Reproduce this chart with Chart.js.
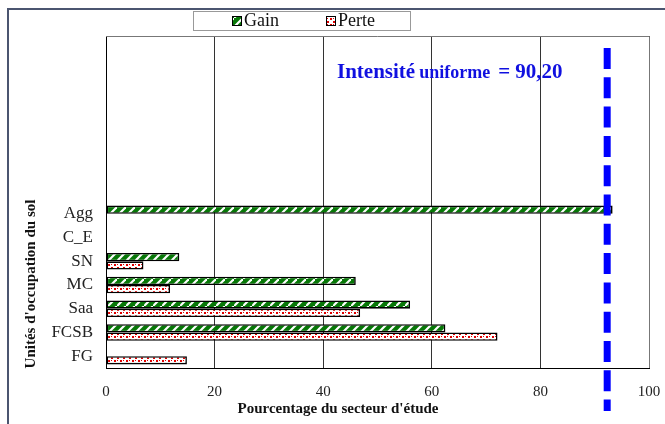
<!DOCTYPE html>
<html>
<head>
<meta charset="utf-8">
<script src="https://cdn.jsdelivr.net/npm/chart.js@4.4.1/dist/chart.umd.min.js"></script>
<style>
    html, body { margin: 0; padding: 0; background: #fff; overflow: hidden; }
    #wrap { position: relative; width: 665px; height: 424px; }
    #frame {
        position: absolute; left: 7px; top: 8px; width: 700px; height: 500px;
        border: 2px solid #4b5570; box-sizing: border-box;
    }
    canvas { position: absolute; left: 0; top: 0; }
</style>
</head>
<body>
<div id="wrap">
    <div id="frame"></div>
    <canvas id="landChart" width="665" height="424"></canvas>
</div>
<script>
// Land use units (top rows are empty in the original figure)
const categories = ['', '', '', '', '', '', '', 'Agg', 'C_E', 'SN', 'MC', 'Saa', 'FCSB', 'FG'];
const gainValues = [null, null, null, null, null, null, null, 93.3, 0, 13.5, 46.0, 56.0, 62.5, 0];
const perteValues = [null, null, null, null, null, null, null, 0, 0, 6.9, 11.8, 46.8, 72.1, 14.9];
const xTicks = [0, 20, 40, 60, 80, 100];
const uniformIntensity = 92.3;
const uniformLabel = 'Intensité uniforme = 90,20';

const SERIF = '"Liberation Serif", "Times New Roman", serif';

// Fill patterns
function gainPattern() {
    const c = document.createElement('canvas');
    c.width = 9; c.height = 9;
    const g = c.getContext('2d');
    g.fillStyle = '#077807';
    g.fillRect(0, 0, 9, 9);
    g.strokeStyle = '#ffffff';
    g.lineWidth = 2.2;
    g.beginPath();
    g.moveTo(-1, 10); g.lineTo(10, -1);
    g.stroke();
    return g.createPattern(c, 'repeat');
}

function pertePattern() {
    const c = document.createElement('canvas');
    c.width = 6; c.height = 6;
    const g = c.getContext('2d');
    g.fillStyle = '#ffffff';
    g.fillRect(0, 0, 6, 6);
    g.fillStyle = '#e00000';
    g.fillRect(0, 0, 2, 2);
    g.fillRect(3, 3, 2, 2);
    g.fillRect(3, 0, 1, 1);
    return g.createPattern(c, 'repeat');
}

const gainFill = gainPattern();
const perteFill = pertePattern();

// Extra drawing: frame of plot, legend box, axis titles, uniform line
const extrasPlugin = {
    id: 'extras',
    afterDraw(chart) {
        const ctx = chart.ctx;
        const area = chart.chartArea;
        const x = chart.scales.x;
        ctx.save();

        // plot border (top & right grey)
        ctx.strokeStyle = '#777';
        ctx.lineWidth = 1;
        ctx.beginPath();
        ctx.moveTo(area.left, area.top + 0.5);
        ctx.lineTo(area.right + 0.5, area.top + 0.5);
        ctx.lineTo(area.right + 0.5, area.bottom);
        ctx.stroke();

        // uniform intensity dashed line
        const ux = x.getPixelForValue(uniformIntensity);
        ctx.strokeStyle = '#0000ff';
        ctx.lineWidth = 7;
        ctx.setLineDash([21, 8.3]);
        ctx.beginPath();
        ctx.moveTo(ux, 48);
        ctx.lineTo(ux, 411);
        ctx.stroke();
        ctx.setLineDash([]);

        // annotation text
        ctx.fillStyle = '#1010e0';
        ctx.textBaseline = 'alphabetic';
        ctx.textAlign = 'left';
        let tx = 337;
        const parts = uniformLabel.split(' ');
        ctx.font = 'bold 21px ' + SERIF;
        ctx.fillText(parts[0], tx, 78);
        tx += ctx.measureText(parts[0]).width + 4;
        ctx.font = 'bold 18px ' + SERIF;
        ctx.fillText(parts[1], tx, 78);
        tx += ctx.measureText(parts[1]).width + 8;
        ctx.font = 'bold 21px ' + SERIF;
        ctx.fillText(parts.slice(2).join(' '), tx, 78);

        // legend
        ctx.fillStyle = '#fff';
        ctx.fillRect(193, 11, 217, 19);
        ctx.strokeStyle = '#999';
        ctx.lineWidth = 1;
        ctx.strokeRect(193.5, 11.5, 217, 19);
        const items = [
            { label: 'Gain', fill: gainFill, x: 232 },
            { label: 'Perte', fill: perteFill, x: 326 }
        ];
        ctx.font = '18px ' + SERIF;
        ctx.textBaseline = 'middle';
        items.forEach(it => {
            ctx.fillStyle = it.fill;
            ctx.fillRect(it.x, 16, 10, 10);
            ctx.strokeStyle = '#000';
            ctx.strokeRect(it.x + 0.5, 16.5, 9, 9);
            ctx.fillStyle = '#111';
            ctx.fillText(it.label, it.x + 12, 21);
        });

        // axis titles
        ctx.fillStyle = '#111';
        ctx.font = 'bold 15px ' + SERIF;
        ctx.textAlign = 'center';
        ctx.fillText("Pourcentage du secteur d'étude", 338, 409);
        ctx.translate(31, 284);
        ctx.rotate(-Math.PI / 2);
        ctx.fillText("Unités d'occupation du sol", 0, 0);
        ctx.restore();
    }
};

new Chart(document.getElementById('landChart'), {
    type: 'bar',
    data: {
        labels: categories,
        datasets: [
            {
                label: 'Gain',
                data: gainValues,
                backgroundColor: gainFill,
                borderColor: '#000',
                borderWidth: 1.6,
                borderSkipped: false
            },
            {
                label: 'Perte',
                data: perteValues,
                backgroundColor: perteFill,
                borderColor: '#000',
                borderWidth: 1.6,
                borderSkipped: false
            }
        ]
    },
    options: {
        indexAxis: 'y',
        responsive: false,
        animation: false,
        layout: { padding: { left: 0, top: 36, right: 16, bottom: 0 } },
        datasets: {
            bar: { categoryPercentage: 0.7, barPercentage: 1 }
        },
        plugins: {
            legend: { display: false },
            tooltip: { enabled: false }
        },
        scales: {
            x: {
                min: 0,
                max: 100,
                afterBuildTicks: s => { s.ticks = xTicks.map(v => ({ value: v })); },
                afterFit: s => { s.height = 56; s.paddingLeft = 0; s.paddingRight = 0; },
                grid: { color: '#333', lineWidth: 1, drawTicks: false },
                border: { color: '#000', width: 1 },
                ticks: {
                    padding: 15,
                    color: '#222',
                    font: { family: SERIF, size: 15 }
                }
            },
            y: {
                afterFit: s => { s.width = 106; s.paddingTop = 0; s.paddingBottom = 0; },
                grid: { display: false, drawTicks: false },
                border: { color: '#000', width: 1 },
                ticks: {
                    padding: 13,
                    color: '#222',
                    autoSkip: false,
                    font: { family: SERIF, size: 17 }
                }
            }
        }
    },
    plugins: [extrasPlugin]
});
</script>
</body>
</html>
